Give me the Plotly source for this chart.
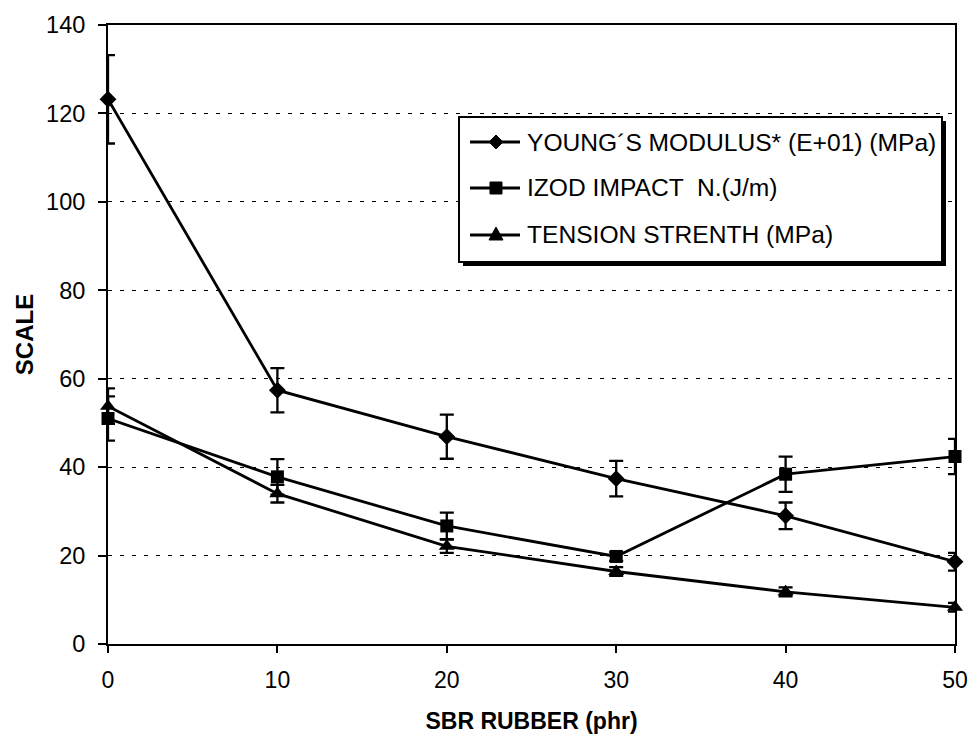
import plotly.graph_objects as go

# SBR rubber content (phr)
sbr_phr = [0, 10, 20, 30, 40, 50]

# Young's modulus (x10, MPa) with error
young_modulus = [123.2, 57.4, 46.9, 37.4, 29.0, 18.6]
young_err = [10.0, 5.0, 5.0, 4.0, 3.0, 2.0]

# Izod impact, notched (J/m) with error
izod_impact = [51.0, 37.8, 26.7, 19.8, 38.4, 42.4]
izod_err = [5.0, 4.0, 3.0, 1.0, 4.0, 4.0]

# Tensile strength (MPa) with error
tension_strength = [53.8, 34.0, 22.1, 16.4, 11.8, 8.3]
tension_err = [4.0, 2.0, 1.5, 1.0, 1.0, 1.0]

series_names = [
    "YOUNG\u00b4S MODULUS* (E+01) (MPa)",
    "IZOD IMPACT  N.(J/m)",
    "TENSION STRENTH (MPa)",
]

x_ticks = [0, 10, 20, 30, 40, 50]
y_ticks = [0, 20, 40, 60, 80, 100, 120, 140]

FONT = "Liberation Sans, Arial, sans-serif"

# Figure / plot-area geometry in pixels
W, H = 968, 735
ML, MR, MT, MB = 108, 13, 25, 91
PW, PH = W - ML - MR, H - MT - MB


def px(x):
    return (x - ML) / PW


def py(y):
    return (H - MB - y) / PH


fig = go.Figure()

styles = [("diamond", 13), ("square", 13), ("triangle-up", 14)]
for name, vals, errs, (symbol, msize) in zip(
        series_names,
        [young_modulus, izod_impact, tension_strength],
        [young_err, izod_err, tension_err],
        styles):
    fig.add_trace(go.Scatter(
        x=sbr_phr, y=vals, name=name, mode="lines+markers",
        line=dict(color="black", width=2.8),
        marker=dict(symbol=symbol, size=msize, color="black"),
        error_y=dict(type="data", array=errs, visible=True,
                     color="black", thickness=2.3, width=7),
        cliponaxis=False, showlegend=False,
    ))

# Legend box with drop shadow
bx0, bx1, by0, by1 = 459, 942, 117, 262
fig.add_shape(type="rect", xref="paper", yref="paper",
              x0=px(bx0 + 4), x1=px(bx1 + 4), y0=py(by1 + 4), y1=py(by0 + 4),
              fillcolor="black", line=dict(width=0), layer="above")
fig.add_shape(type="rect", xref="paper", yref="paper",
              x0=px(bx0), x1=px(bx1), y0=py(by1), y1=py(by0),
              fillcolor="white", line=dict(color="black", width=2), layer="above")

# Legend entries: line segment, symbol, label
rows = [142, 188, 235]
seg_x0, seg_x1, sym_x, text_x = 470, 520, 496, 525
for row, name, (symbol, _) in zip(rows, series_names, styles):
    fig.add_shape(type="line", xref="paper", yref="paper",
                  x0=px(seg_x0), x1=px(seg_x1), y0=py(row), y1=py(row),
                  line=dict(color="black", width=2.8), layer="above")
    if symbol == "diamond":
        pts = [(sym_x, row - 7), (sym_x + 7, row), (sym_x, row + 7), (sym_x - 7, row)]
    elif symbol == "square":
        pts = [(sym_x - 6, row - 6), (sym_x + 6, row - 6), (sym_x + 6, row + 6), (sym_x - 6, row + 6)]
    else:
        pts = [(sym_x, row - 8), (sym_x + 7, row + 5), (sym_x - 7, row + 5)]
    path = "M " + " L ".join(f"{px(a):.5f},{py(b):.5f}" for a, b in pts) + " Z"
    fig.add_shape(type="path", xref="paper", yref="paper", path=path,
                  fillcolor="black", line=dict(color="black", width=1), layer="above")
    fig.add_annotation(x=px(text_x), y=py(row), xref="paper", yref="paper",
                       text=name, showarrow=False, xanchor="left", yanchor="middle",
                       font=dict(family=FONT, size=24.6, color="black"))

fig.update_layout(
    width=W, height=H,
    margin=dict(l=ML, r=MR, t=MT, b=MB),
    paper_bgcolor="white", plot_bgcolor="white",
    font=dict(family=FONT, color="black", size=23),
    showlegend=False,
    xaxis=dict(
        range=[0, 50], tickvals=x_ticks, ticktext=[str(v) for v in x_ticks],
        showline=True, linecolor="black", linewidth=2, mirror=True,
        ticks="outside", ticklen=7, tickwidth=1.5, tickcolor="black",
        showgrid=False, zeroline=False, automargin=False,
        tickfont=dict(family=FONT, size=23),
        ticklabelstandoff=7,
        title=dict(text="<b>SBR RUBBER (phr)</b>", standoff=21,
                   font=dict(family=FONT, size=23)),
    ),
    yaxis=dict(
        range=[0, 140], tickvals=y_ticks, ticktext=[str(v) for v in y_ticks],
        showline=True, linecolor="black", linewidth=2, mirror=True,
        ticks="outside", ticklen=8, tickwidth=1.5, tickcolor="black",
        showgrid=True, gridcolor="black", gridwidth=1.2, griddash="4px,8px",
        zeroline=False, automargin=False,
        tickfont=dict(family=FONT, size=23.5),
        ticklabelstandoff=8,
        title=dict(text="<b>SCALE</b>", standoff=6,
                   font=dict(family=FONT, size=24)),
    ),
)

fig.write_html("out.html")
